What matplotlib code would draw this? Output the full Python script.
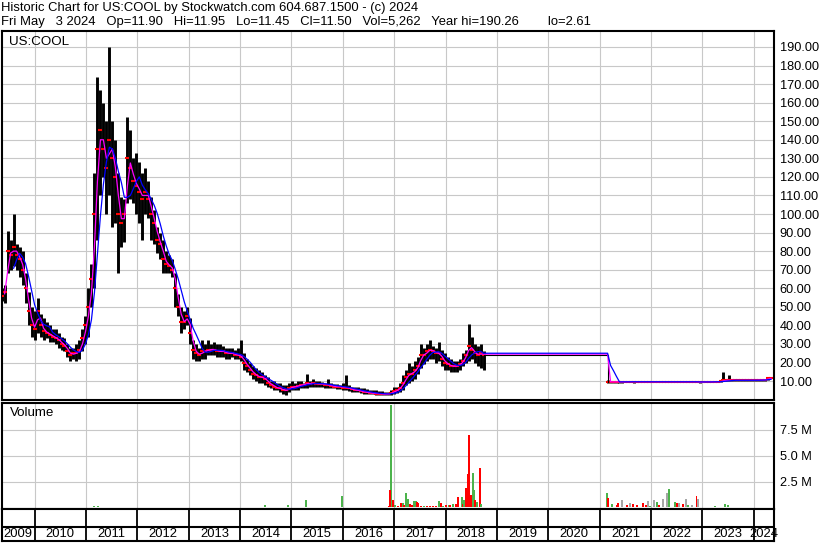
import pandas as pd
import numpy as np
import matplotlib
matplotlib.use("Agg")
import matplotlib.pyplot as plt

plt.rcParams['font.family'] = ['Liberation Sans', 'DejaVu Sans']

# --- price data (about every 3 weeks) ---
# 2009-05 .. 2018-09
seg1_high = [60, 62, 91, 86, 100, 84, 82, 80, 68, 58,
             50, 48, 55, 46, 44, 42, 40, 38, 38, 36,
             34, 33, 30, 28, 28, 30, 32, 38, 45, 60,
             73, 122, 174, 167, 160, 150, 190, 150, 140, 122,
             109, 108, 152, 145, 130, 133, 128, 122, 125, 118,
             109, 102, 93, 90, 86, 80, 78, 76, 68, 57,
             50, 48, 50, 44, 32, 30, 28, 32, 30, 32,
             30, 31, 30, 30, 29, 28, 28, 28, 27, 28,
             32, 25, 22, 20, 18, 17, 16, 15, 13, 12,
             10, 10, 9, 9, 8, 8, 9, 10, 9, 10,
             10, 9, 14, 10, 11, 10, 10, 9.5, 9, 11,
             9, 8.5, 8.5, 8, 9, 13, 8, 7, 7, 7,
             6.5, 6, 5.5, 5, 5, 5, 4.5, 4.5, 4, 4,
             5, 7, 7, 9, 13, 16, 20, 18, 21, 23,
             30, 28, 30, 32, 29, 28, 31, 27, 25, 23,
             22, 21, 21, 22, 25, 27, 41, 34, 30, 29,
             30, 26]
seg1_low = [53, 52, 68, 70, 72, 70, 66, 62, 52, 40,
            34, 32, 36, 34, 32, 33, 31, 31, 30, 28,
            27, 26, 23, 21, 22, 21, 22, 26, 30, 34,
            50, 60, 86, 110, 120, 100, 110, 93, 95, 68,
            82, 85, 106, 108, 106, 100, 95, 86, 100, 98,
            86, 84, 79, 76, 68, 68, 68, 66, 50, 45,
            36, 38, 40, 30, 22, 21, 21, 22, 22, 24,
            24, 24, 23, 23, 23, 22, 22, 23, 22, 22,
            21, 16, 15, 13, 11, 10, 9, 9, 8, 7,
            6, 5, 5, 4, 3, 2.6, 4, 5, 5, 5,
            6, 6, 6, 7, 7, 7, 7, 7, 6.5, 6.5,
            6, 6, 5.5, 5.5, 5, 5, 4.5, 4, 4, 4,
            3.5, 3, 3, 2.8, 2.8, 2.6, 2.6, 2.5, 2.5, 2.5,
            2.5, 3, 3.5, 4, 5, 8, 9, 10, 11, 14,
            17, 19, 21, 22, 22, 20, 21, 18, 16, 16,
            15, 15, 15, 16, 18, 20, 21, 22, 20, 18,
            17, 16]
seg1_close = [56, 58, 80, 78, 82, 78, 76, 70, 60, 48,
              40, 38, 48, 40, 37, 36, 35, 34, 33, 32,
              30, 29, 26, 24, 25, 25, 27, 33, 40, 50,
              65, 100, 135, 145, 135, 125, 140, 130, 120, 100,
              95, 100, 130, 125, 118, 115, 112, 108, 112, 108,
              100, 95, 86, 84, 76, 73, 72, 70, 60, 50,
              42, 42, 45, 36, 27, 25, 24, 26, 26, 27,
              27, 27, 26, 26, 26, 25, 25, 25, 24, 24,
              23, 20, 18, 16, 14, 13, 12, 12, 11, 9,
              8, 7, 6, 6, 5, 5, 6, 7, 7, 7.5,
              8, 8, 9, 8.5, 9, 8.5, 8.5, 8.5, 8, 8,
              7.5, 7, 7, 7, 6.5, 6.5, 6, 5.5, 5, 5,
              4.5, 4, 4, 3.5, 3.5, 3.2, 3.2, 3, 3, 3,
              3.5, 4.5, 5, 6.5, 9, 12, 14, 14, 16, 18,
              24, 24, 26, 27, 26, 25, 25, 22, 20, 19,
              18, 18, 18, 19, 21, 24, 29, 27, 25, 24,
              25, 24]

# 2021-02 .. 2024-05
seg2_high = [10.4, 10.2, 10.0, 10.1, 10.0, 9.9, 9.9, 9.9, 10.0, 9.9,
             9.9, 9.9, 9.9, 9.9, 9.9, 9.9, 9.9, 9.9, 9.9, 9.9,
             9.9, 9.9, 9.9, 9.9, 9.9, 9.9, 9.9, 9.9, 9.9, 9.9,
             9.9, 9.8, 9.9, 9.9, 9.9, 9.9, 9.9, 9.9, 10.2, 15.0,
             11.0, 13.5, 10.8, 10.8, 10.8, 10.8, 10.8, 10.8, 10.8, 10.8,
             10.8, 10.8, 10.9, 11.0, 12.2, 11.95]
seg2_low = [9.0, 9.1, 9.2, 9.2, 9.1, 9.2, 9.3, 9.3, 9.3, 9.2,
            9.3, 9.3, 9.3, 9.3, 9.3, 9.3, 9.3, 9.3, 9.3, 9.3,
            9.3, 9.3, 9.3, 9.3, 9.3, 9.3, 9.3, 9.3, 9.3, 9.3,
            9.3, 9.0, 9.3, 9.3, 9.3, 9.3, 9.3, 9.3, 9.4, 9.8,
            9.9, 10.0, 10.0, 10.0, 10.0, 10.0, 10.0, 10.0, 10.0, 10.0,
            10.1, 10.1, 10.2, 10.3, 10.8, 11.45]
seg2_close = [9.6, 9.5, 9.6, 9.5, 9.6, 9.6, 9.6, 9.6, 9.7, 9.6,
              9.6, 9.6, 9.6, 9.6, 9.6, 9.6, 9.6, 9.6, 9.6, 9.6,
              9.6, 9.6, 9.6, 9.6, 9.6, 9.6, 9.6, 9.6, 9.6, 9.6,
              9.6, 9.3, 9.6, 9.6, 9.6, 9.6, 9.6, 9.6, 9.8, 10.4,
              10.4, 10.5, 10.4, 10.4, 10.4, 10.4, 10.4, 10.4, 10.4, 10.4,
              10.5, 10.5, 10.6, 10.7, 11.4, 11.5]

# --- volume (millions) ---
vol_dates = ['2011-03-01', '2011-03-29', '2011-05-24', '2011-10-06', '2012-01-06',
             '2013-01-10', '2014-06-27', '2014-12-08', '2015-04-10', '2015-04-14',
             '2015-09-10', '2015-12-26', '2015-12-30', '2016-10-06', '2016-11-03',
             '2016-11-27', '2016-12-10', '2016-12-04', '2016-12-25', '2017-01-07',
             '2017-01-28', '2017-02-16', '2017-03-03', '2017-03-12', '2017-03-27',
             '2017-04-08', '2017-04-24', '2017-05-08', '2017-05-19', '2017-06-02',
             '2017-06-09', '2017-06-21', '2017-07-10', '2017-07-31', '2017-08-24',
             '2017-09-13', '2017-10-04', '2017-10-25', '2017-11-13', '2017-11-30',
             '2017-12-12', '2018-01-01', '2018-01-22', '2018-02-04', '2018-02-25',
             '2018-03-15', '2018-04-01', '2018-04-25', '2018-05-07', '2018-05-15',
             '2018-05-26', '2018-06-07', '2018-06-18', '2018-06-30', '2018-07-12',
             '2018-07-24', '2018-07-28', '2018-08-01', '2018-08-12', '2018-09-03',
             '2018-09-10',
             '2021-02-20', '2021-03-01', '2021-03-27', '2021-05-01', '2021-05-10',
             '2021-06-06', '2021-07-11', '2021-08-04', '2021-08-23', '2021-09-20',
             '2021-11-02', '2021-11-25', '2021-12-09', '2021-12-24', '2022-01-21',
             '2022-02-14', '2022-02-28', '2022-03-28', '2022-04-21', '2022-05-10',
             '2022-06-19', '2022-07-01', '2022-07-19', '2022-08-13', '2022-09-05',
             '2022-09-22', '2022-10-16', '2022-11-20', '2022-12-04', '2023-03-30',
             '2023-06-09', '2023-07-01']
vol_values = [0.1, 0.1, 0.05, 0.06, 0.05,
              0.06, 0.2, 0.25, 0.08, 0.75,
              0.05, 0.1, 1.15, 0.05, 0.07,
              0.1, 9.9, 1.7, 0.75, 0.25,
              0.15, 0.4, 0.4, 0.2, 1.4,
              0.8, 0.35, 0.2, 0.6, 0.6,
              0.5, 0.4, 0.15, 0.15, 0.1,
              0.1, 0.1, 0.1, 0.6, 0.4,
              0.15, 0.2, 0.2, 0.25, 0.35,
              0.3, 1.05, 1.05, 0.3, 0.7,
              1.9, 3.2, 7.0, 1.2, 3.3,
              1.7, 0.7, 0.3, 0.5, 3.85,
              0.3,
              1.35, 0.96, 0.3, 0.2, 0.4,
              0.7, 0.25, 0.45, 0.3, 0.25,
              0.4, 0.25, 0.6, 0.15, 0.7,
              0.5, 0.25, 0.77, 1.42, 1.8,
              0.5, 0.45, 0.4, 0.35, 0.77,
              0.2, 0.2, 1.15, 0.77, 0.1,
              0.3, 0.2]
vol_kind = ['u', 'u', 'd', 'd', 'd',
            'd', 'u', 'u', 'd', 'u',
            'u', 'd', 'u', 'd', 'd',
            'd', 'u', 'd', 'd', 'u',
            'd', 'd', 'u', 'd', 'u',
            'u', 'd', 'd', 'u', 'u',
            'd', 'd', 'd', 'u', 'd',
            'd', 'd', 'd', 'u', 'd',
            'u', 'd', 'u', 'd', 'u',
            'd', 'd', 'u', 'd', 'u',
            'd', 'd', 'd', 'd', 'u',
            'u', 'd', 'd', 'u', 'd',
            'u',
            'u', 'd', 'u', 'd', 'd',
            'n', 'd', 'n', 'd', 'd',
            'd', 'd', 'n', 'u', 'n',
            'u', 'd', 'n', 'n', 'u',
            'u', 'd', 'n', 'd', 'n',
            'u', 'n', 'd', 'n', 'u',
            'u', 'u']

header1 = "Historic Chart for US:COOL by Stockwatch.com 604.687.1500 - (c) 2024"
header2 = ("Fri May   3 2024   Op=11.90   Hi=11.95   Lo=11.45   Cl=11.50   "
           "Vol=5,262   Year hi=190.26        lo=2.61")
years = list(range(2009, 2025))

# --- build series ---
dates1 = pd.date_range('2009-05-12', '2018-09-28', periods=len(seg1_close))
dates2 = pd.date_range('2021-02-26', '2024-05-03', periods=len(seg2_close))
dates = dates1.append(dates2)
highs = np.array(seg1_high + seg2_high)
lows = np.array(seg1_low + seg2_low)
closes = pd.Series(seg1_close + seg2_close)

ma_fast = closes.rolling(2, min_periods=2).mean().to_numpy()
ma_slow = closes.rolling(5, min_periods=5).mean().to_numpy()
# the averages are carried flat through the trading halt
n1 = len(seg1_close)
ma_fast[n1] = ma_fast[n1 - 1]
ma_slow[n1] = ma_slow[n1 - 1]

W, H = 830, 543
fig = plt.figure(figsize=(W / 100, H / 100), dpi=100)


def px_axes(l, t, r, b):
    return fig.add_axes([l / W, 1 - b / H, (r - l) / W, (b - t) / H])


xmin, xmax = pd.Timestamp('2009-05-11'), pd.Timestamp('2024-05-24')
bounds = [pd.Timestamp(f'{y}-01-01') for y in years[1:]]
grid_c = '#c8c8c8'
fs = 9.2


def style_box(ax):
    ax.set_xlim(xmin, xmax)
    for s in ax.spines.values():
        s.set_color('black')
        s.set_linewidth(1.5)
    ax.set_xticks(bounds)
    ax.tick_params(axis='x', length=0, labelbottom=False)
    ax.yaxis.tick_right()
    ax.tick_params(axis='y', length=0, pad=4.0, labelsize=fs)
    ax.grid(True, color=grid_c, linewidth=0.8)
    ax.set_axisbelow(True)


# price panel
ax = px_axes(1.5, 31, 774, 400)
style_box(ax)
ax.set_ylim(-0.2, 198.6)
ax.set_yticks(range(10, 200, 10))
ax.set_yticklabels([f'{v:.2f}' for v in range(10, 200, 10)])
ax.vlines(dates, lows, highs, color='black', linewidth=2.1, zorder=2)
ax.plot(dates, closes, linestyle='none', marker='_', color='red',
        markersize=3.5, markeredgewidth=1.5, zorder=3)
ax.plot([dates1[-1], dates2[0]], [seg1_close[-1], seg2_close[0]],
        color='black', linewidth=0.8, drawstyle='steps-post', zorder=3)
ax.plot(dates, ma_fast, color='#ff00ff', linewidth=0.9, zorder=4)
ax.plot(dates, ma_slow, color='#0000ff', linewidth=0.9, zorder=5)
ax.text(7 / 772, 1 - 11 / 369, 'US:COOL', transform=ax.transAxes,
        fontsize=9.6, va='center', ha='left')

# volume panel
vx = px_axes(1.5, 403, 774, 509)
style_box(vx)
vx.set_ylim(-0.15, 10.1)
vx.set_yticks([2.5, 5.0, 7.5])
vx.set_yticklabels(['2.5 M', '5.0 M', '7.5 M'])
col_map = {'u': '#4cb34c', 'd': '#ff0000', 'n': '#a6a6a6'}
vx.bar(pd.to_datetime(vol_dates), vol_values, width=14,
       color=[col_map[k] for k in vol_kind], zorder=2)
vx.text(8 / 772, 1 - 10 / 106, 'Volume', transform=vx.transAxes,
        fontsize=9.6, va='center', ha='left')

# year strip
sx = px_axes(1.5, 509, 774, 541)
sx.set_xlim(xmin, xmax)
sx.set_ylim(0, 1)
sx.set_xticks([])
sx.set_yticks([])
for s in sx.spines.values():
    s.set_color('black')
    s.set_linewidth(1.5)
sx.vlines(bounds, 0, 1, color='black', linewidth=1.3)
sx.axhline(14 / 32, color='black', linewidth=1.5)
edges = [xmin] + bounds + [xmax]
for y, a, b in zip(years, edges[:-1], edges[1:]):
    mid = a + (b - a) / 2
    sx.text(mid, 7 / 32, str(y), fontsize=9.4, ha='center', va='center',
            clip_on=False)

fig.text(1 / W, 1 - 8 / H, header1, fontsize=9.4, va='center', ha='left')
fig.text(1 / W, 1 - 22 / H, header2, fontsize=9.4, va='center', ha='left')

fig.savefig('out.png', dpi=100)
